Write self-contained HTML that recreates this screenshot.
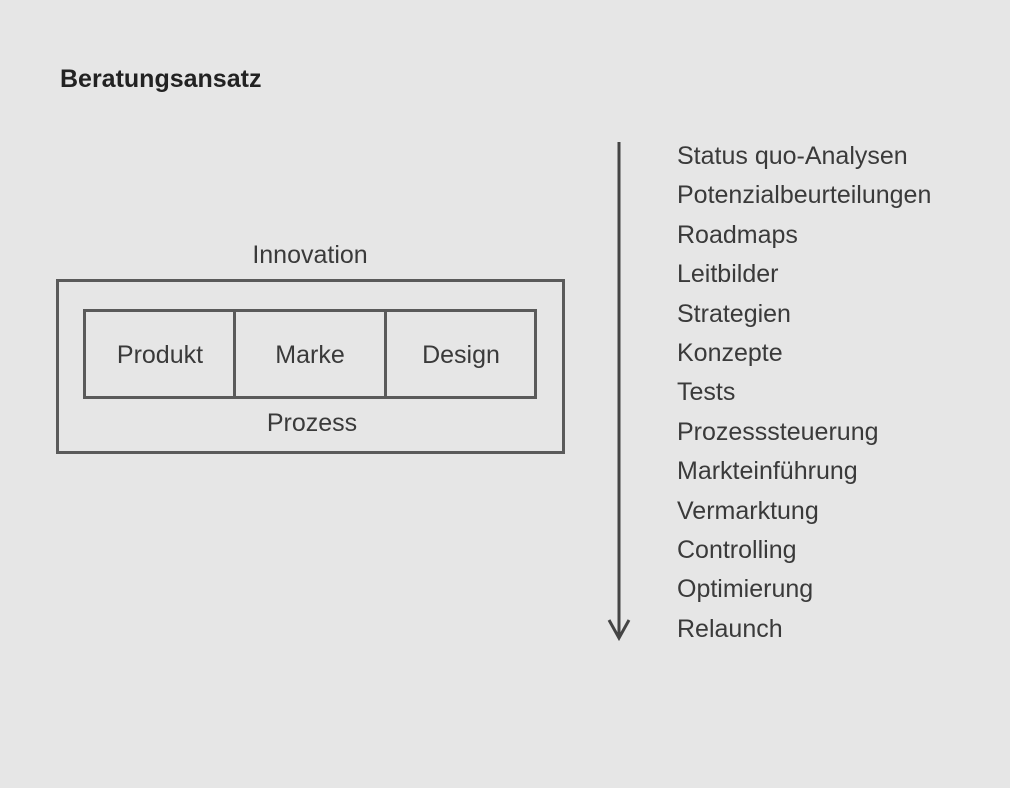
<!DOCTYPE html>
<html><head><meta charset="utf-8"><style>
body{margin:0;width:1010px;height:788px;background:#e6e6e6;position:relative;overflow:hidden;font-family:"Liberation Sans",sans-serif;color:#3a3a3a}
.t{position:absolute;white-space:nowrap;font-size:25px;line-height:30px}
.b{position:absolute;border:3px solid #5a5a5a;box-sizing:border-box}
.c{position:absolute;text-align:center;font-size:25px;line-height:30px}
</style></head><body>
<div class="t" style="left:60px;top:64px;font-weight:bold;color:#222;font-size:25px">Beratungsansatz</div>
<div class="c" style="left:210px;width:200px;top:240px">Innovation</div>
<div class="b" style="left:56px;top:279px;width:509px;height:175px"></div>
<div class="b" style="left:83px;top:309px;width:454px;height:90px"></div>
<div style="position:absolute;left:233px;top:309px;width:3px;height:90px;background:#5a5a5a"></div>
<div style="position:absolute;left:384px;top:309px;width:3px;height:90px;background:#5a5a5a"></div>
<div class="c" style="left:86px;width:148px;top:340px">Produkt</div>
<div class="c" style="left:236px;width:148px;top:340px">Marke</div>
<div class="c" style="left:387px;width:148px;top:340px">Design</div>
<div class="c" style="left:212px;width:200px;top:408px">Prozess</div>
<svg style="position:absolute;left:0;top:0" width="1010" height="788">
<line x1="619" y1="142" x2="619" y2="636" stroke="#444" stroke-width="3"/>
<polyline points="609,620 619,638 629,620" fill="none" stroke="#444" stroke-width="3"/>
</svg>
<div class="t" style="left:677px;top:137px;line-height:39.4px">Status quo-Analysen<br>Potenzialbeurteilungen<br>Roadmaps<br>Leitbilder<br>Strategien<br>Konzepte<br>Tests<br>Prozesssteuerung<br>Markteinführung<br>Vermarktung<br>Controlling<br>Optimierung<br>Relaunch</div>
</body></html>
